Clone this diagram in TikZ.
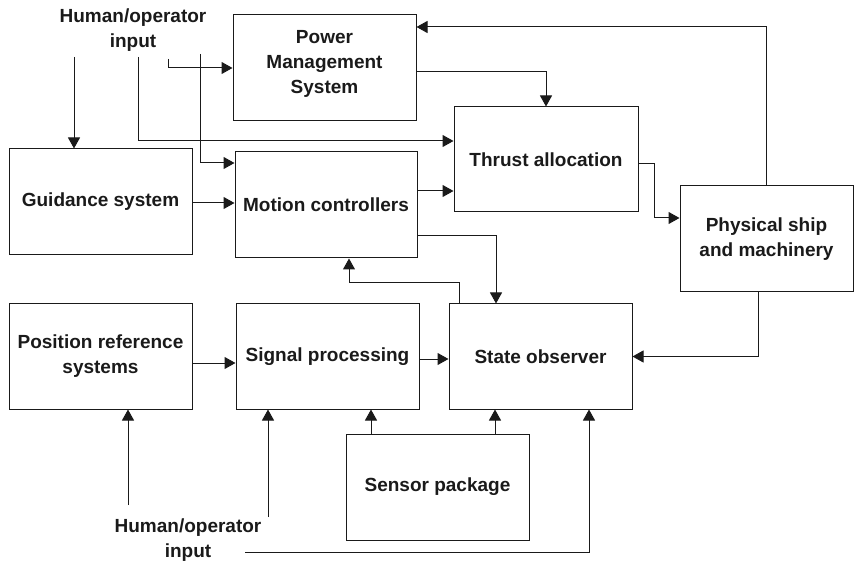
\documentclass[tikz,border=0pt]{standalone}
\usepackage{fontspec}
\setmainfont{Liberation Sans}
\usetikzlibrary{arrows.meta}
\definecolor{ink}{HTML}{1A1A1A}
\tikzset{
  blk/.style={draw=ink, line width=1pt, rectangle, inner sep=2pt, align=center,
    font=\fontsize{19}{25}\selectfont\bfseries, text=ink},
  lbl/.style={inner sep=0pt, align=center,
    font=\fontsize{19}{25}\selectfont\bfseries, text=ink},
  arr/.style={draw=ink, line width=1pt, -{Triangle[length=11pt,width=12pt]}},
  ln/.style={draw=ink, line width=1pt}
}
\begin{document}
\begin{tikzpicture}[x=1pt,y=-1pt]
\path[use as bounding box] (0,0) rectangle (854,561);

% blocks
\node[blk, minimum width=183pt, minimum height=106pt] (pms) at (324.5,68) {};
\node[lbl] (pmstxt) at (324.5,63.5) {Power\\Management\\System};
\node[blk, minimum width=184pt, minimum height=105pt] (ta) at (546,159.5) {Thrust allocation};
\node[blk, minimum width=183pt, minimum height=106pt] (gs) at (100.5,202) {Guidance system};
\node[blk, minimum width=182pt, minimum height=106pt] (mc) at (326,205) {Motion controllers};
\node[blk, minimum width=173pt, minimum height=106pt] (ship) at (766.5,239) {Physical ship\\and machinery};
\node[blk, minimum width=183pt, minimum height=105pt] (prs) at (100.5,356.5) {Position reference\\systems};
\node[blk, minimum width=183pt, minimum height=105pt] (sp) at (327.5,356.5) {Signal processing};
\node[blk, minimum width=183pt, minimum height=105pt] (so) at (540.5,356.5) {State observer};
\node[blk, minimum width=183pt, minimum height=106pt] (sens) at (437.5,487) {Sensor package};

% operator input labels
\node[lbl] (hin1) at (133,30) {Human/operator\\input};
\node[lbl] (hin2) at (188,540) {Human/operator\\input};

% free ends of the operator input lines
\coordinate (h1a) at (74,57);
\coordinate (h1b) at (138,57);
\coordinate (h1c) at (168,59);
\coordinate (h1d) at (200,54);
\coordinate (h2a) at (128,505);
\coordinate (h2b) at (268,517);
\coordinate (h2c) at (245,552);

% top operator inputs
\draw[arr] (h1a) -- (h1a |- gs.north);
\draw[arr] (h1b) |- (ta.west |- 0,141);
\draw[arr] (h1c) |- (pms.west |- 0,68);
\draw[arr] (h1d) |- (mc.west |- 0,163);

% upper loop
\draw[arr] (ship.north) |- (pms.east |- 0,27);
\draw[arr] (pms.east |- 0,72) -| (ta.north);
\draw[arr] (gs.east |- 0,203) -- (mc.west |- 0,203);
\draw[arr] (mc.east |- 0,191) -- (ta.west |- 0,191);
\draw[arr] (ta.east |- 0,164) -- (654,164) |- (ship.west |- 0,218);
\draw[arr] (mc.east |- 0,236) -| (so.north -| 496,0);
\draw[arr] (so.north -| 459,0) -- (459,283) -| (mc.south -| 349,0);
\draw[arr] (ship.south -| 758,0) |- (so.east);

% lower chain
\draw[arr] (prs.east |- 0,363) -- (sp.west |- 0,363);
\draw[arr] (sp.east |- 0,359) -- (so.west |- 0,359);
\draw[arr] (sens.north -| 371,0) -- (sp.south -| 371,0);
\draw[arr] (sens.north -| 495,0) -- (so.south -| 495,0);

% bottom operator inputs
\draw[arr] (h2a) -- (h2a |- prs.south);
\draw[arr] (h2b) -- (h2b |- sp.south);
\draw[arr] (h2c) -| (so.south -| 589,0);
\end{tikzpicture}
\end{document}
